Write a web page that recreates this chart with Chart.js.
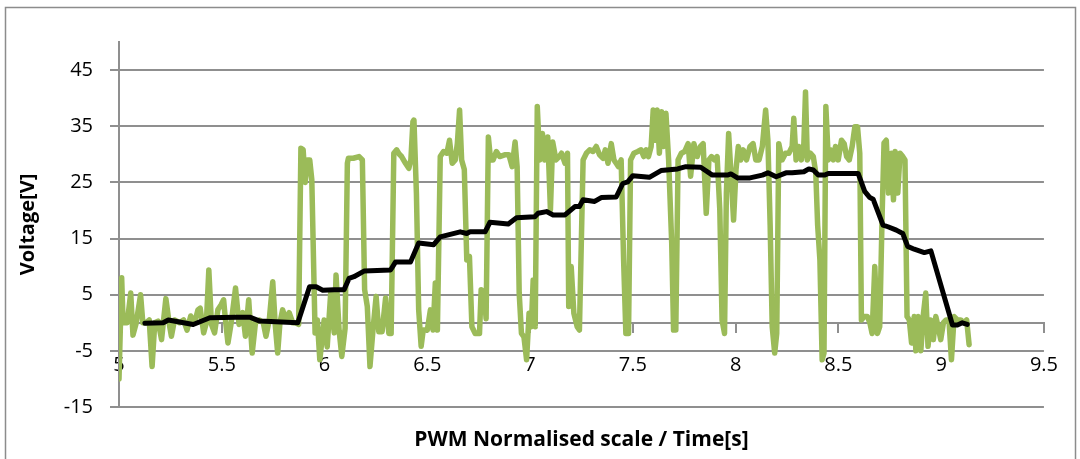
<!DOCTYPE html>
<html>
<head>
<meta charset="utf-8">
<script src="https://cdn.jsdelivr.net/npm/chart.js@4.4.1/dist/chart.umd.min.js"></script>
<style>
  html, body { margin: 0; padding: 0; background: #fff; }
  #wrap { width: 1080px; height: 459px; }
</style>
</head>
<body>
<div id="wrap"><canvas id="chart"></canvas></div>
<script>
// PWM signal (green) and its filtered average (black)
const greenTime = [
  5.000, 5.013, 5.020, 5.040, 5.057, 5.068, 5.084, 5.105, 5.116, 5.132, 5.147, 5.161, 5.174, 5.190, 5.207,
  5.228, 5.245, 5.255, 5.270, 5.295, 5.314, 5.331, 5.349, 5.368, 5.384, 5.395, 5.412, 5.425, 5.437, 5.450,
  5.465, 5.481, 5.497, 5.509, 5.518, 5.530, 5.546, 5.567, 5.584, 5.602, 5.615, 5.631, 5.648, 5.664, 5.683,
  5.702, 5.715, 5.731, 5.748, 5.760, 5.772, 5.783, 5.796, 5.812, 5.828, 5.845, 5.860, 5.874, 5.885, 5.896,
  5.906, 5.917, 5.928, 5.938, 5.954, 5.965, 5.977, 5.998, 6.013, 6.030, 6.047, 6.056, 6.071, 6.084, 6.100,
  6.111, 6.116, 6.140, 6.168, 6.184, 6.195, 6.208, 6.221, 6.237, 6.251, 6.264, 6.280, 6.297, 6.313, 6.324,
  6.337, 6.351, 6.364, 6.375, 6.394, 6.410, 6.420, 6.430, 6.435, 6.447, 6.458, 6.470, 6.480, 6.500, 6.515,
  6.528, 6.539, 6.549, 6.563, 6.579, 6.595, 6.608, 6.621, 6.636, 6.646, 6.657, 6.667, 6.680, 6.692, 6.705,
  6.717, 6.733, 6.754, 6.762, 6.777, 6.786, 6.797, 6.808, 6.820, 6.836, 6.852, 6.876, 6.897, 6.913, 6.927,
  6.937, 6.947, 6.958, 6.970, 6.983, 6.995, 7.006, 7.015, 7.025, 7.035, 7.047, 7.060, 7.071, 7.086, 7.099,
  7.110, 7.126, 7.142, 7.153, 7.170, 7.182, 7.188, 7.200, 7.213, 7.229, 7.240, 7.258, 7.274, 7.290, 7.306,
  7.322, 7.338, 7.355, 7.366, 7.379, 7.395, 7.408, 7.419, 7.430, 7.443, 7.455, 7.466, 7.479, 7.489, 7.505,
  7.524, 7.540, 7.553, 7.565, 7.576, 7.589, 7.599, 7.608, 7.618, 7.629, 7.640, 7.650, 7.661, 7.674, 7.689,
  7.698, 7.709, 7.720, 7.736, 7.752, 7.769, 7.781, 7.797, 7.813, 7.829, 7.842, 7.857, 7.870, 7.883, 7.897,
  7.910, 7.923, 7.934, 7.946, 7.955, 7.966, 7.978, 7.990, 8.002, 8.013, 8.025, 8.037, 8.053, 8.070, 8.085,
  8.098, 8.114, 8.130, 8.146, 8.157, 8.168, 8.178, 8.190, 8.200, 8.210, 8.226, 8.243, 8.259, 8.275, 8.283,
  8.294, 8.307, 8.320, 8.332, 8.340, 8.349, 8.364, 8.378, 8.390, 8.399, 8.410, 8.421, 8.430, 8.439, 8.451,
  8.463, 8.475, 8.486, 8.499, 8.515, 8.528, 8.540, 8.553, 8.567, 8.580, 8.593, 8.604, 8.612, 8.625, 8.641,
  8.653, 8.664, 8.677, 8.690, 8.701, 8.713, 8.722, 8.733, 8.744, 8.757, 8.768, 8.776, 8.789, 8.800, 8.813,
  8.824, 8.834, 8.845, 8.856, 8.869, 8.877, 8.888, 8.901, 8.914, 8.925, 8.936, 8.949, 8.962, 8.974, 8.985,
  8.998, 9.011, 9.024, 9.038, 9.050, 9.063, 9.079, 9.095, 9.111, 9.124, 9.136
];
const greenVolt = [
  -10, 8, 0, 0, 5.3, -2.2, 0, 5, 0, 0, 0.5, -7.8, 0, 0.3, -3,
  4.3, -0.3, -2.4, 0.5, 0, 0.5, -1.3, 1.2, 0, 2.3, 2.6, -1.8, 0, 9.4, -0.3,
  -1.8, 2.3, 3.2, 4.1, 0.5, -3.6, 0, 6.2, -0.3, 1.8, -2.4, 4.1, -5.4, 0, 0.5,
  0, -2.4, 0.5, 7.3, -0.3, -5.4, 0, 2.3, 0.5, 1.8, 0, 0, -0.3, 31.1, 30.8,
  25, 29, 29, 25.5, -1.8, 0.5, -6.6, 0.5, -4.3, 5.3, -1.8, 8.5, -1.4, -6, -1,
  28.4, 29.3, 29.3, 29.6, 29, 5.9, 2.9, -7.8, -0.7, 4.7, -1.6, -1.6, 4.4, -1.9, -1.9,
  30.2, 30.8, 30, 29.6, 28.4, 27.5, 29, 35.8, 36.1, 23.1, 2.3, -4.2, -1.3, -1.3, 2.3,
  -1.3, 7.1, -1.3, 29.6, 30.5, 30.2, 32.5, 28.4, 29, 31.9, 37.9, 29, 27.3, 11.2, 11.8,
  -0.7, -1.9, -1.9, 5.9, 5.3, 0.7, 33.1, 29, 29, 30.5, 29.6, 29.9, 29.9, 27.8, 32.2,
  27.8, 5.3, -1.9, -2.5, -6.6, 1.7, -0.7, 7.6, -0.7, 38.5, 29, 33.7, 29, 33.1, 20.1,
  32.2, 29, 29.6, 30.2, 28.4, 30.2, 2.9, 10, 1.7, -0.7, -1.3, 29, 30.2, 30.8, 30.5,
  31.4, 29.9, 29.3, 30.8, 28.4, 31.9, 29, 28.4, 27.8, 29, 11.2, -1.9, -1.9, 29, 30.2,
  30.5, 30.8, 29.6, 30.8, 29.6, 31.4, 37.9, 32.5, 37.9, 30.2, 37.6, 31.4, 37.3, 29, 14.2,
  -1.3, -1.3, 29, 30.2, 30.5, 31.9, 26.1, 31.9, 29.6, 31.4, 31.9, 19.5, 29, 29.6, 29,
  29.6, 20.1, 0.5, -1.9, 23.1, 33.7, 26.1, 18.3, 27.3, 31.4, 29, 30.8, 29, 31.4, 31.9,
  29, 29, 31.4, 37.9, 32.5, 17.4, -0.7, -5.4, -1.9, 31.9, 29, 30.2, 30.2, 31.4, 36.4,
  29, 31.4, 29, 31.9, 41.1, 29, 30.2, 29.6, 26.7, 17.4, 11.2, -6.6, -5.4, 38.5, 29,
  30.8, 29, 31.4, 29, 32.5, 31.9, 29.6, 29, 31.4, 34.9, 34.9, 30.2, 0.5, 1.1, 1.1,
  0, -1.9, 10, -1.9, -0.7, 19.5, 32, 32.5, 23.1, 30.2, 21.9, 30.5, 23.1, 30.2, 29.6,
  29, 1.1, 0.5, -3.6, 1.1, -5, 1.1, -5, 1.7, 5.3, -4.2, 0.5, -3, 1.1, -0.7,
  -3, 0, 0.5, 0.5, -6.6, 1.1, 0.5, 0.5, 0, 0.5, -3.9
];

const blackTime = [
  5.126, 5.215, 5.240, 5.361, 5.442, 5.571, 5.636, 5.685, 5.870, 5.927, 5.959, 5.991, 6.047, 6.095, 6.119,
  6.143, 6.192, 6.321, 6.345, 6.418, 6.458, 6.531, 6.563, 6.660, 6.692, 6.708, 6.781, 6.805, 6.894, 6.934,
  7.023, 7.039, 7.080, 7.112, 7.170, 7.218, 7.240, 7.258, 7.314, 7.346, 7.419, 7.451, 7.475, 7.500, 7.580,
  7.637, 7.718, 7.758, 7.830, 7.887, 7.960, 7.977, 8.009, 8.070, 8.130, 8.157, 8.197, 8.245, 8.275, 8.332,
  8.356, 8.378, 8.402, 8.434, 8.451, 8.596, 8.628, 8.653, 8.669, 8.717, 8.741, 8.782, 8.813, 8.837, 8.869,
  8.918, 8.950, 9.055, 9.079, 9.103, 9.127
];
const blackVolt = [
  -0.1, 0, 0.5, -0.3, 0.9, 1, 1, 0.3, 0, 6.4, 6.4, 5.8, 5.9, 5.9, 7.9,
  8.2, 9.2, 9.4, 10.8, 10.8, 14.2, 13.9, 15.3, 16.2, 15.9, 16.2, 16.2, 17.9, 17.6, 18.7,
  18.9, 19.5, 19.8, 19.2, 19.2, 20.7, 20.7, 21.9, 21.6, 22.3, 22.4, 24.8, 25.1, 26.2, 25.9,
  27.1, 27.4, 27.8, 27.7, 26.3, 26.3, 26.5, 25.8, 25.8, 26.3, 26.7, 26, 26.7, 26.7, 26.9,
  27.4, 27.2, 26.3, 26.3, 26.6, 26.6, 23.4, 22.3, 22, 17.4, 17.1, 16.5, 15.9, 13.6, 13.1,
  12.5, 12.8, -0.4, -0.4, 0, -0.3
];

const xTicks = [5, 5.5, 6, 6.5, 7, 7.5, 8, 8.5, 9, 9.5];
const yTicks = [-15, -5, 5, 15, 25, 35, 45];

const xTitle = "PWM Normalised scale / Time[s]";
const yTitle = "Voltage[V]";

const gridGray = "#8f8f8f";
const fontFamily = "'Open Sans', 'Liberation Sans', sans-serif";

const toPoints = (xs, ys) => xs.map((x, i) => ({ x: x, y: ys[i] }));

// white background + outer frame
const frame = {
  id: "frame",
  beforeDraw(chart) {
    const ctx = chart.ctx;
    ctx.save();
    ctx.fillStyle = "#fff";
    ctx.fillRect(0, 0, chart.width, chart.height);
    ctx.strokeStyle = "#8c8c8c";
    ctx.lineWidth = 1.5;
    ctx.strokeRect(5.5, 7.5, 1070, 480);
    ctx.restore();
  },
};

// x axis title sits under the plot, centered on the plot area
const bottomTitle = {
  id: "bottomTitle",
  afterDraw(chart) {
    const ctx = chart.ctx;
    const area = chart.chartArea;
    ctx.save();
    ctx.font = "bold 21px " + fontFamily;
    ctx.fillStyle = "#000";
    ctx.textAlign = "center";
    ctx.textBaseline = "middle";
    ctx.fillText(xTitle, (area.left + area.right) / 2, 440);
    ctx.restore();
  },
};

new Chart(document.getElementById("chart"), {
  type: "line",
  data: {
    datasets: [
      {
        label: "Average",
        data: toPoints(blackTime, blackVolt),
        borderColor: "#000000",
        borderWidth: 5,
        pointRadius: 0,
        tension: 0,
        borderJoinStyle: "round",
        borderCapStyle: "round",
        order: 1,
      },
      {
        label: "PWM",
        data: toPoints(greenTime, greenVolt),
        borderColor: "#9bbb59",
        borderWidth: 5.5,
        pointRadius: 0,
        tension: 0,
        borderJoinStyle: "round",
        borderCapStyle: "round",
        order: 2,
      },
    ],
  },
  options: {
    responsive: true,
    maintainAspectRatio: false,
    animation: false,
    layout: {
      padding: { top: 42, right: 32, bottom: 52, left: 0 },
    },
    plugins: {
      legend: { display: false },
      tooltip: { enabled: false },
    },
    scales: {
      x: {
        type: "linear",
        position: { y: 0 },
        min: 5,
        max: 9.5,
        afterBuildTicks: (scale) => {
          scale.ticks = xTicks.map((v) => ({ value: v }));
        },
        ticks: {
          padding: 22,
          color: "#000",
          font: { family: fontFamily, size: 20 },
          callback: (v) => String(v),
          maxRotation: 0,
          autoSkip: false,
        },
        grid: {
          drawOnChartArea: false,
          drawTicks: true,
          tickLength: 9,
          color: gridGray,
          lineWidth: 2,
        },
        border: { display: true, color: gridGray, width: 2 },
      },
      y: {
        type: "linear",
        position: "left",
        min: -15,
        max: 50,
        afterBuildTicks: (scale) => {
          scale.ticks = yTicks.map((v) => ({ value: v }));
        },
        afterFit: (scale) => {
          scale.width = 119;
        },
        ticks: {
          padding: 17,
          color: "#000",
          font: { family: fontFamily, size: 20 },
        },
        grid: {
          drawTicks: true,
          tickLength: 9,
          color: gridGray,
          lineWidth: 2,
        },
        border: { display: true, color: gridGray, width: 2 },
        title: {
          display: true,
          text: yTitle,
          color: "#000",
          font: { family: fontFamily, size: 20, weight: "bold" },
          padding: { top: 16, bottom: 0 },
        },
      },
    },
  },
  plugins: [frame, bottomTitle],
});
</script>
</body>
</html>
